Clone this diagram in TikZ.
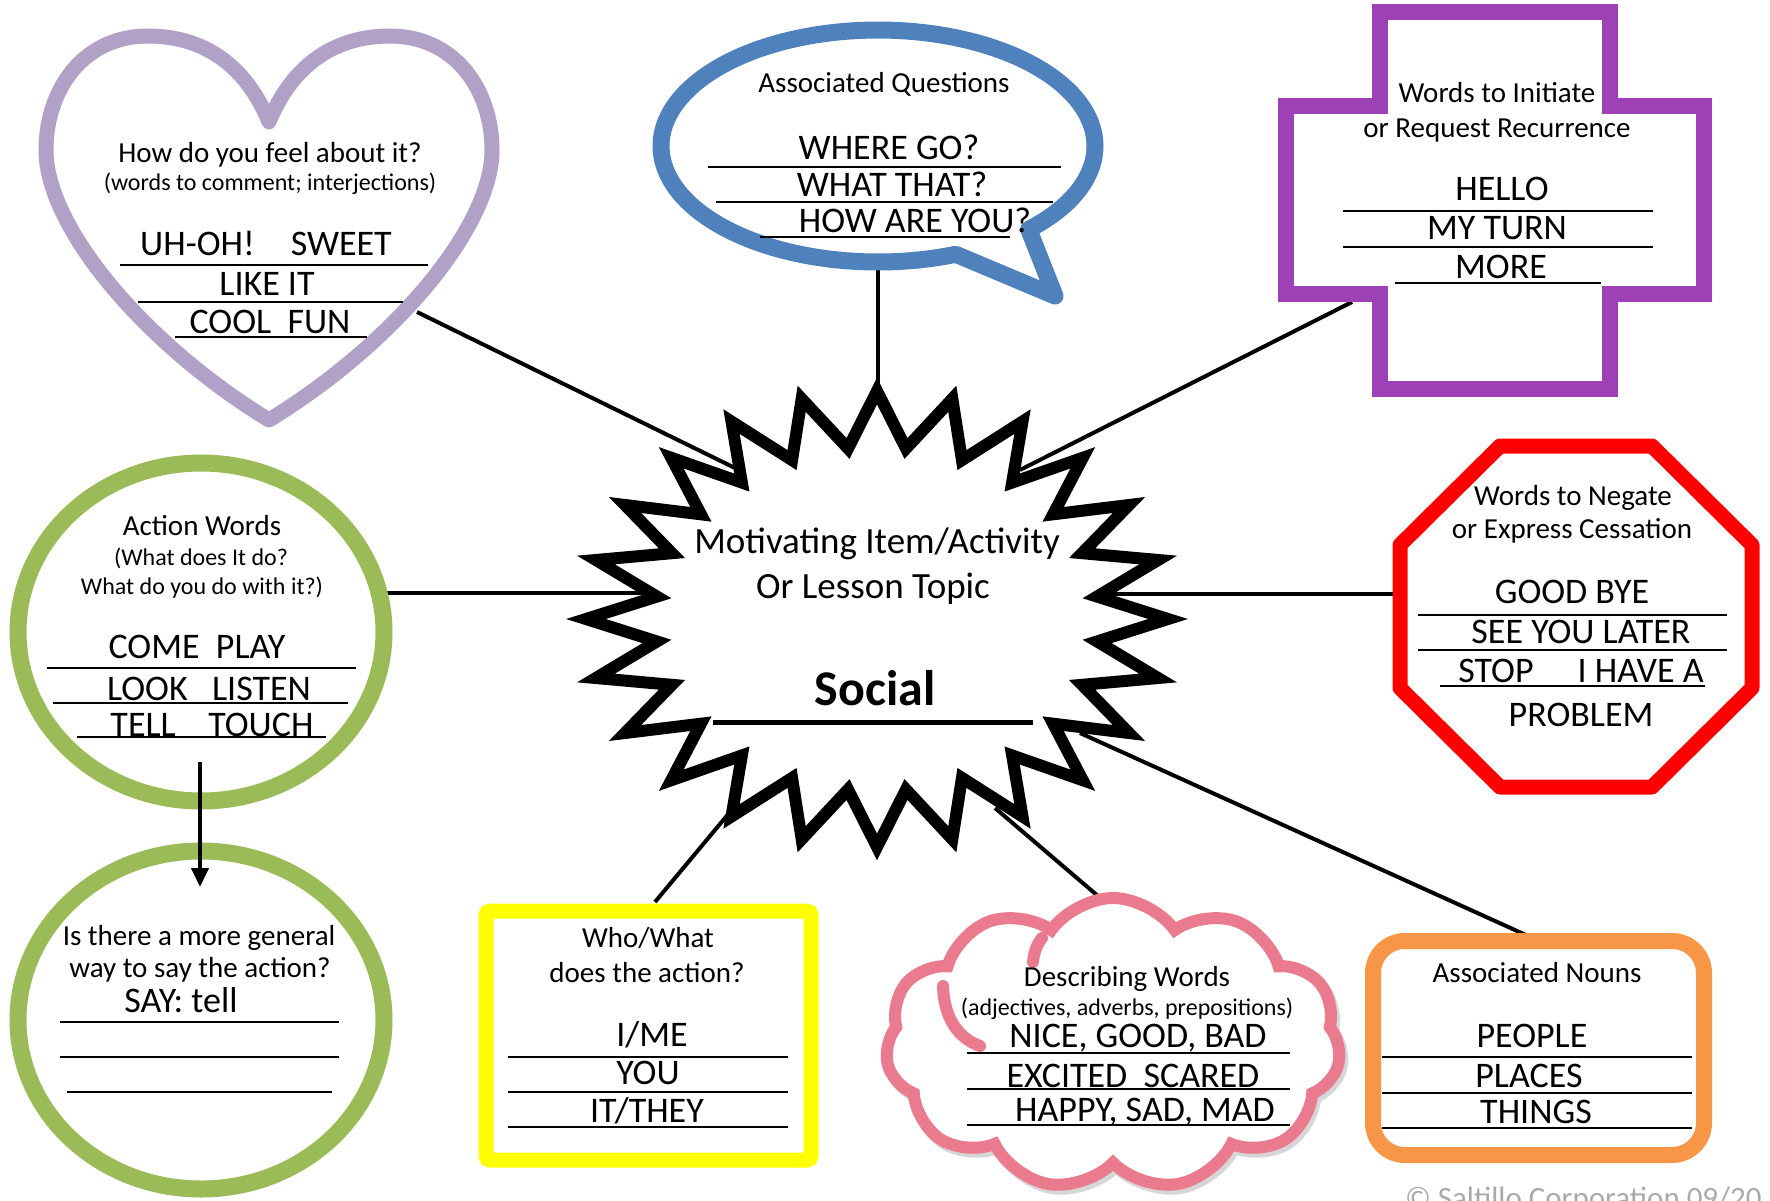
\documentclass[tikz,border=0pt]{standalone}
\usepackage{fontspec}
\setmainfont{Carlito}
\usetikzlibrary{shapes.symbols,shapes.geometric,arrows.meta}

\definecolor{cHeart}{RGB}{178,161,199}
\definecolor{cBlue}{RGB}{79,129,189}
\definecolor{cPurple}{RGB}{158,64,182}
\definecolor{cGreen}{RGB}{155,187,89}
\definecolor{cRed}{RGB}{255,0,0}
\definecolor{cYellow}{RGB}{255,255,0}
\definecolor{cPink}{RGB}{234,123,142}
\definecolor{cOrange}{RGB}{247,150,70}
\definecolor{cGray}{RGB}{170,170,170}

\newcommand\fHead{\fontsize{29}{34}\selectfont}
\newcommand\fSub{\fontsize{24}{28}\selectfont}
\newcommand\fBig{\fontsize{36}{42}\selectfont}
\newcommand\fStar{\fontsize{37}{44}\selectfont}
\newcommand\fSocial{\fontsize{50}{58}\selectfont\bfseries}

\begin{document}
\begin{tikzpicture}[x=1pt,y=-1pt,
  txt/.style={anchor=base,inner sep=0pt,outer sep=0pt},
  head/.style={txt,font=\fHead},
  sub/.style={txt,font=\fSub},
  big/.style={txt,font=\fBig},
  uline/.style={line width=2pt},
  link/.style={line width=4pt,black},
  shadowed/.style={preaction={draw=black,draw opacity=0.16,transform canvas={shift={(3pt,-4pt)}}}},
  frame/.style={fill=white,line join=round,shadowed}]

\useasboundingbox (0,0) rectangle (1770,1200);
\fill[white] (0,0) rectangle (1770,1200);

% ---------- connection points ----------
\coordinate (heartP) at (417,312);
\coordinate (starNW) at (735,468);
\coordinate (bubbleP) at (878,268);
\coordinate (starN) at (878,420);
\coordinate (crossP) at (1352,302);
\coordinate (starNE) at (1020,470);
\coordinate (actP) at (373,593);
\coordinate (starW) at (660,593);
\coordinate (starE) at (1100,594);
\coordinate (octP) at (1397,594);
\coordinate (starSW) at (740,800);
\coordinate (whoP) at (655,902);
\coordinate (starS) at (995,808);
\coordinate (cloudP) at (1112,908);
\coordinate (starSE) at (1080,733);
\coordinate (nounP) at (1537,940);
\coordinate (actBot) at (200,762);
\coordinate (genTop) at (200,887);

% ---------- connectors ----------
\draw[link] (heartP) -- (starNW);
\draw[link] (bubbleP) -- (starN);
\draw[link] (crossP) -- (starNE);
\draw[link] (actP) -- (starW);
\draw[link] (starE) -- (octP);
\draw[link] (starSW) -- (whoP);
\draw[link] (starS) -- (cloudP);
\draw[link] (starSE) -- (nounP);

% ---------- shapes ----------
% heart
\draw[cHeart,line width=15pt,frame]
  (269,122) .. controls (290,70) and (330,36) .. (390,36)
  .. controls (455,36) and (492,90) .. (492,150)
  .. controls (492,228) and (392,345) .. (269,420)
  .. controls (146,345) and (46,228) .. (46,150)
  .. controls (46,90) and (83,36) .. (148,36)
  .. controls (208,36) and (248,70) .. (269,122) -- cycle;

% speech bubble
\draw[cBlue,line width=17pt,frame]
  plot[domain=69:406,samples=140,variable=\t] ({878+217*cos(\t)},{146+116*sin(\t)})
  -- (1055,296) -- cycle;

% cross
\draw[cPurple,line width=16pt,fill=white,line join=miter,shadowed]
  (1380,12) -- (1610,12) -- (1610,106) -- (1704,106) -- (1704,294) -- (1610,294)
  -- (1610,389) -- (1380,389) -- (1380,294) -- (1286,294) -- (1286,106) -- (1380,106) -- cycle;

% octagon
\draw[cRed,line width=15pt,frame]
  (1500,446) -- (1652,446) -- (1752,545) -- (1752,688) -- (1652,787)
  -- (1500,787) -- (1400,688) -- (1400,545) -- cycle;

% green circles
\draw[cGreen,line width=17pt,fill=white,shadowed] (201,632) ellipse [x radius=183,y radius=169];
\draw[cGreen,line width=17pt,fill=white,shadowed] (201,1020) ellipse [x radius=183,y radius=169];

% yellow box
\draw[cYellow,line width=15pt,fill=white,rounded corners=4pt,shadowed] (486,911) rectangle (811,1160);

% orange box
\draw[cOrange,line width=16pt,fill=white,rounded corners=32pt,shadowed] (1373,941) rectangle (1704,1155);

% cloud
\node[cloud,cloud puffs=11,cloud puff arc=110,aspect=1.6,draw=cPink,line width=12pt,
      fill=white,minimum width=455pt,minimum height=292pt,inner sep=0pt,shadowed] (cloud) at (1113,1044) {};
\draw[cPink,line width=12pt,line cap=round] (943,986) .. controls (944,1018) and (958,1038) .. (980,1046);
\draw[cPink,line width=12pt,line cap=round] (1033,962) .. controls (1034,952) and (1037,944) .. (1042,938);

% star
\draw[black,line width=12pt,fill=white,line join=miter,shadowed]
  plot[samples at={0,...,47},variable=\k]
  ({877+(291-69*mod(\k,2))*cos(90+7.5*\k)},{619-(228-56*mod(\k,2))*sin(90+7.5*\k)}) -- cycle;

% arrow between green circles
\draw[link,-{Triangle[width=17pt,length=19pt]}] (actBot) -- (genTop);

% ---------- texts ----------
% heart
\node[head] (h1) at (270,162) {How do you feel about it?};
\node[sub]  (h2) at (270,190) {(words to comment; interjections)};
\node[big]  (h3) at (266,255) {UH-OH!\quad SWEET};
\node[big]  (h4) at (267,295) {LIKE IT};
\node[big]  (h5) at (270,333) {COOL\ \ FUN};
\draw[uline] (120,265) -- (428,265);
\draw[uline] (138,302) -- (403,302);
\draw[uline] (175,337) -- (367,337);

% bubble
\node[head] (q1) at (884,92) {Associated Questions};
\node[big]  (q2) at (889,159) {WHERE GO?};
\node[big]  (q3) at (892,196) {WHAT THAT?};
\node[big]  (q4) at (915,232) {HOW ARE YOU?};
\draw[uline] (708,167) -- (1061,167);
\draw[uline] (716,202) -- (1053,202);
\draw[uline] (760,237) -- (1010,237);

% cross
\node[head] (c1) at (1497,102) {Words to Initiate};
\node[head] (c2) at (1497,137) {or Request Recurrence};
\node[big]  (c3) at (1502,200) {HELLO};
\node[big]  (c4) at (1497,239) {MY TURN};
\node[big]  (c5) at (1501,278) {MORE};
\draw[uline] (1343,211) -- (1653,211);
\draw[uline] (1343,247) -- (1653,247);
\draw[uline] (1395,283) -- (1601,283);

% octagon
\node[head] (o1) at (1573,505) {Words to Negate};
\node[head] (o2) at (1572,538) {or Express Cessation};
\node[big]  (o3) at (1572,603) {GOOD BYE};
\node[big]  (o4) at (1581,643) {SEE YOU LATER};
\node[big]  (o5) at (1581,682) {STOP\quad\ I HAVE A};
\node[big]  (o6) at (1581,726) {PROBLEM};
\draw[uline] (1418,615) -- (1727,615);
\draw[uline] (1418,650) -- (1727,650);
\draw[uline] (1440,686) -- (1705,686);

% action circle
\node[head] (a1) at (202,535) {Action Words};
\node[sub]  (a2) at (201,565) {(What does It do?};
\node[sub]  (a3) at (202,594) {What do you do with it?)};
\node[big]  (a4) at (197,658) {COME\ \ PLAY};
\node[big]  (a5) at (209,700) {LOOK\ \ \ LISTEN};
\node[big]  (a6) at (212,736) {TELL\ \ \ \ TOUCH};
\draw[uline] (47,668) -- (356,668);
\draw[uline] (53,703) -- (348,703);
\draw[uline] (77,737) -- (326,737);

% general circle
\node[head] (g1) at (199,945) {Is there a more general};
\node[head] (g2) at (200,977) {way to say the action?};
\node[big]  (g3) at (181,1012) {SAY: tell};
\draw[uline] (60,1022) -- (339,1022);
\draw[uline] (60,1057) -- (339,1057);
\draw[uline] (67,1092) -- (332,1092);

% who box
\node[head] (w1) at (648,947) {Who/What};
\node[head] (w2) at (647,982) {does the action?};
\node[big]  (w3) at (652,1046) {I/ME};
\node[big]  (w4) at (648,1084) {YOU};
\node[big]  (w5) at (647,1122) {IT/THEY};
\draw[uline] (508,1057) -- (788,1057);
\draw[uline] (508,1092) -- (788,1092);
\draw[uline] (508,1127) -- (788,1127);

% cloud
\node[head] (d1) at (1127,986) {Describing Words};
\node[sub]  (d2) at (1127,1015) {(adjectives, adverbs, prepositions)};
\node[big]  (d3) at (1138,1047) {NICE, GOOD, BAD};
\node[big]  (d4) at (1133,1087) {EXCITED\ \ SCARED};
\node[big]  (d5) at (1145,1121) {HAPPY, SAD, MAD};
\draw[uline] (967,1053) -- (1290,1053);
\draw[uline] (967,1089) -- (1290,1089);
\draw[uline] (967,1125) -- (1290,1125);

% nouns box
\node[head] (n1) at (1537,982) {Associated Nouns};
\node[big]  (n2) at (1532,1047) {PEOPLE};
\node[big]  (n3) at (1529,1087) {PLACES};
\node[big]  (n4) at (1536,1123) {THINGS};
\draw[uline] (1382,1057) -- (1692,1057);
\draw[uline] (1382,1093) -- (1692,1093);
\draw[uline] (1382,1128) -- (1692,1128);

% star
\node[txt,font=\fStar] (s1) at (877,553) {Motivating Item/Activity};
\node[txt,font=\fStar] (s2) at (873,598) {Or Lesson Topic};
\node[txt,font=\fSocial] (s3) at (875,705) {Social};
\draw[line width=5pt] (713,722) -- (1033,722);

% copyright
\node[txt,anchor=base west,font=\fontsize{31}{36}\selectfont,text=cGray] (copy) at (1405,1208) {© Saltillo Corporation 09/20};
\end{tikzpicture}
\end{document}
